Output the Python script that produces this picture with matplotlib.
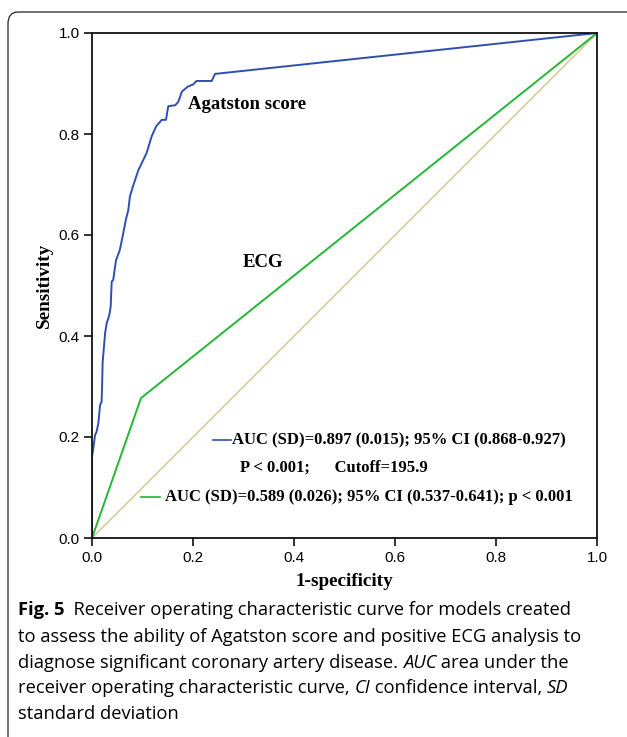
import matplotlib
matplotlib.use("Agg")
import matplotlib.pyplot as plt
from matplotlib.patches import FancyBboxPatch
from matplotlib.lines import Line2D

# ---- data ----
agat_fpr = [0, 0, 0.003, 0.006, 0.009, 0.0125, 0.016, 0.019, 0.020, 0.021, 0.022,
            0.026, 0.029, 0.034, 0.037, 0.039, 0.042, 0.0475, 0.055, 0.062, 0.067,
            0.072, 0.075, 0.081, 0.092, 0.095, 0.108, 0.118, 0.127, 0.138, 0.1465,
            0.151, 0.165, 0.171, 0.178, 0.190, 0.200, 0.207, 0.237, 0.2436, 1.0]
agat_tpr = [0, 0.161, 0.180, 0.204, 0.210, 0.227, 0.263, 0.270, 0.300, 0.346, 0.359,
            0.406, 0.425, 0.440, 0.458, 0.508, 0.511, 0.550, 0.570, 0.604, 0.630,
            0.650, 0.676, 0.696, 0.729, 0.735, 0.762, 0.795, 0.815, 0.828, 0.828,
            0.855, 0.857, 0.864, 0.884, 0.894, 0.898, 0.905, 0.905, 0.919, 1.0]
ecg_fpr = [0, 0.097, 1.0]
ecg_tpr = [0, 0.277, 1.0]
ref_fpr = [0, 1]
ref_tpr = [0, 1]
ticks = [0.0, 0.2, 0.4, 0.6, 0.8, 1.0]
tick_labels = ["0.0", "0.2", "0.4", "0.6", "0.8", "1.0"]

blue = "#2f4fb0"
green = "#22b833"
tan = "#d6cc9c"
serif = ["Liberation Serif", "DejaVu Serif"]
sans = ["Liberation Sans", "DejaVu Sans"]

fig = plt.figure(figsize=(6.27, 7.37), dpi=100)

# outer rounded frame
frame = FancyBboxPatch((8 / 627, -0.2), 1.2, 1.2 - 12 / 737,
                       boxstyle="round,pad=0,rounding_size=0.016",
                       transform=fig.transFigure, fill=False, ec="#222222", lw=0.9,
                       clip_on=False)
fig.patches.append(frame)

ax = fig.add_axes([92 / 627, 1 - 538 / 737, 505 / 627, 505 / 737])
ax.plot(ref_fpr, ref_tpr, color=tan, lw=1.2)
ax.plot(ecg_fpr, ecg_tpr, color=green, lw=1.4)
ax.plot(agat_fpr, agat_tpr, color=blue, lw=1.4)
ax.set_xlim(0, 1)
ax.set_ylim(0, 1)
ax.set_xticks(ticks)
ax.set_yticks(ticks)
ax.set_xticklabels(tick_labels, family=sans, fontsize=11)
ax.set_yticklabels(tick_labels, family=sans, fontsize=11)
ax.tick_params(direction="out", length=6, width=1.2, color="#111111", pad=3)
for s in ax.spines.values():
    s.set_linewidth(1.3)
    s.set_color("#111111")
ax.set_xlabel("1-specificity", family=serif, fontweight="bold", fontsize=13.8, labelpad=6)
ax.set_ylabel("Sensitivity", family=serif, fontweight="bold", fontsize=13.8, labelpad=4)

ax.text(0.19, 0.859, "Agatston score", family=serif, fontweight="bold", fontsize=13.5,
        va="center", ha="left")
ax.text(0.299, 0.545, "ECG", family=serif, fontweight="bold", fontsize=13.5,
        va="center", ha="left")

# legend-like annotations
ax.add_line(Line2D([0.239, 0.275], [0.194, 0.194], color=blue, lw=1.2))
ax.text(0.277, 0.194, "AUC (SD)=0.897 (0.015); 95% CI (0.868-0.927)", family=serif,
        fontweight="bold", fontsize=12, va="center", ha="left")
ax.text(0.293, 0.140, "P < 0.001;      Cutoff=195.9", family=serif,
        fontweight="bold", fontsize=12, va="center", ha="left")
ax.add_line(Line2D([0.097, 0.135], [0.081, 0.081], color=green, lw=1.2))
ax.text(0.145, 0.081, "AUC (SD)=0.589 (0.026); 95% CI (0.537-0.641); p < 0.001", family=serif,
        fontweight="bold", fontsize=12, va="center", ha="left")

# caption
cap_font = ["Open Sans", "DejaVu Sans"]
x0 = 18 / 627
ys = [610, 637, 663, 688, 714]
fs = 13.2
t = fig.text(x0, 1 - ys[0] / 737, "Fig. 5", family=cap_font, fontweight="bold",
             fontsize=fs, va="center", ha="left")
fig.canvas.draw()
r = fig.canvas.get_renderer()

def after(prev, s, **kw):
    bb = prev.get_window_extent(r)
    x = bb.x1 / fig.bbox.width
    y = prev.get_position()[1]
    tt = fig.text(x, y, s, family=cap_font, fontsize=fs, va="center", ha="left", **kw)
    fig.canvas.draw()
    return tt

after(t, "  Receiver operating characteristic curve for models created")
fig.text(x0, 1 - ys[1] / 737, "to assess the ability of Agatston score and positive ECG analysis to",
         family=cap_font, fontsize=fs, va="center", ha="left")
a = fig.text(x0, 1 - ys[2] / 737, "diagnose significant coronary artery disease. ", family=cap_font,
             fontsize=fs, va="center", ha="left")
fig.canvas.draw()
b = after(a, "AUC", style="italic")
after(b, " area under the")
c = fig.text(x0, 1 - ys[3] / 737, "receiver operating characteristic curve, ", family=cap_font,
             fontsize=fs, va="center", ha="left")
fig.canvas.draw()
d = after(c, "CI", style="italic")
e = after(d, " confidence interval, ")
after(e, "SD", style="italic")
fig.text(x0, 1 - ys[4] / 737, "standard deviation", family=cap_font, fontsize=fs,
         va="center", ha="left")

fig.savefig("out.png", dpi=100)
